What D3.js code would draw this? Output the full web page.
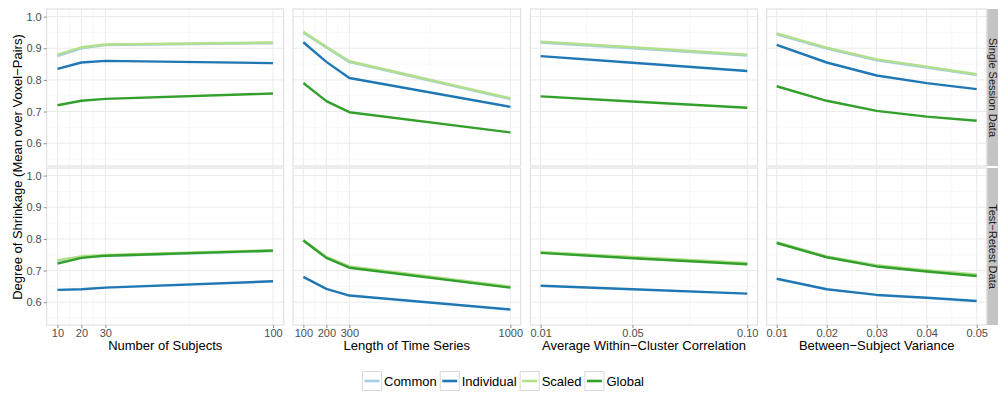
<!DOCTYPE html>
<html>
<head>
<meta charset="utf-8">
<script src="https://cdn.jsdelivr.net/npm/d3@7"></script>
<style>
  html, body { margin: 0; padding: 0; background: #ffffff; }
  svg { display: block; font-family: "Liberation Sans", Arial, sans-serif; }
</style>
</head>
<body>
<svg id="chart" width="998" height="397"></svg>
<script>
// ---- Data -------------------------------------------------------------
const methods = ["Common", "Individual", "Scaled", "Global"];
const methodColors = ["#a6cee3", "#1f78b4", "#b2df8a", "#33a02c"];
const rowLabels = ["Single Session Data", "Test\u2212Retest Data"];
const xTitles = ["Number of Subjects", "Length of Time Series",
                 "Average Within\u2212Cluster Correlation", "Between\u2212Subject Variance"];

const subjectsX = [10, 20, 30, 100];
const lengthX = [100, 200, 300, 1000];
const corrX = [0.01, 0.05, 0.10];
const varianceX = [0.01, 0.02, 0.03, 0.04, 0.05];

const subjectsTicks = [10, 20, 30, 100];
const lengthTicks = [100, 200, 300, 1000];
const corrTicks = [0.01, 0.05, 0.10];
const varianceTicks = [0.01, 0.02, 0.03, 0.04, 0.05];
const yTicks = [0.6, 0.7, 0.8, 0.9, 1.0];

// Single session
const single_subjects = {
  Common: [0.875, 0.900, 0.910, 0.916], Individual: [0.835, 0.855, 0.860, 0.853],
  Scaled: [0.880, 0.903, 0.912, 0.918], Global: [0.720, 0.734, 0.740, 0.757]
};
const single_length = {
  Common: [0.949, 0.902, 0.856, 0.739], Individual: [0.919, 0.857, 0.806, 0.715],
  Scaled: [0.952, 0.905, 0.859, 0.742], Global: [0.790, 0.733, 0.698, 0.634]
};
const single_corr = {
  Common: [0.918, 0.900, 0.877], Individual: [0.875, 0.854, 0.828],
  Scaled: [0.921, 0.903, 0.880], Global: [0.748, 0.732, 0.712]
};
const single_variance = {
  Common: [0.944, 0.899, 0.862, 0.839, 0.815], Individual: [0.911, 0.855, 0.814, 0.790, 0.771],
  Scaled: [0.947, 0.902, 0.865, 0.842, 0.818], Global: [0.780, 0.734, 0.702, 0.684, 0.671]
};
// Test-retest
const retest_subjects = {
  Common: [0.730, 0.742, 0.746, 0.762], Individual: [0.639, 0.641, 0.646, 0.666],
  Scaled: [0.733, 0.745, 0.749, 0.764], Global: [0.722, 0.740, 0.747, 0.763]
};
const retest_length = {
  Common: [0.795, 0.741, 0.711, 0.648], Individual: [0.680, 0.642, 0.621, 0.577],
  Scaled: [0.797, 0.743, 0.713, 0.650], Global: [0.795, 0.740, 0.709, 0.646]
};
const retest_corr = {
  Common: [0.757, 0.741, 0.722], Individual: [0.652, 0.641, 0.627],
  Scaled: [0.759, 0.743, 0.724], Global: [0.756, 0.739, 0.720]
};
const retest_variance = {
  Common: [0.788, 0.743, 0.715, 0.699, 0.686], Individual: [0.674, 0.641, 0.623, 0.614, 0.604],
  Scaled: [0.790, 0.745, 0.717, 0.701, 0.688], Global: [0.787, 0.742, 0.713, 0.697, 0.683]
};

// ---- Layout -----------------------------------------------------------
const colDefs = [
  { x: subjectsX, ticks: subjectsTicks, minor: [15, 25, 65], fmt: d3.format("d"), left: 46.7, right: 283.8 },
  { x: lengthX, ticks: lengthTicks, minor: [150, 250, 650], fmt: d3.format("d"), left: 293, right: 520.7 },
  { x: corrX, ticks: corrTicks, minor: [0.03, 0.075], fmt: d3.format(".2f"), left: 530.3, right: 757.6 },
  { x: varianceX, ticks: varianceTicks, minor: [0.015, 0.025, 0.035, 0.045], fmt: d3.format(".2f"), left: 766.7, right: 986.7 }
];
const rowDefs = [
  { top: 9, bottom: 166, series: [single_subjects, single_length, single_corr, single_variance] },
  { top: 168, bottom: 325, series: [retest_subjects, retest_length, retest_corr, retest_variance] }
];
const yDomain = [0.528, 1.024];
const yMinor = [0.55, 0.65, 0.75, 0.85, 0.95];

const svg = d3.select("#chart");
const color = d3.scaleOrdinal().domain(methods).range(methodColors);

rowDefs.forEach((row, ri) => {
  const y = d3.scaleLinear().domain(yDomain).range([row.bottom, row.top]);
  colDefs.forEach((col, ci) => {
    const ext = d3.extent(col.x);
    const pad = (ext[1] - ext[0]) * 0.05;
    const x = d3.scaleLinear().domain([ext[0] - pad, ext[1] + pad]).range([col.left, col.right]);
    const g = svg.append("g");

    // panel background
    g.append("rect").attr("x", col.left).attr("y", row.top)
      .attr("width", col.right - col.left).attr("height", row.bottom - row.top)
      .attr("fill", "#ffffff");

    // minor grid
    g.selectAll(".ymin").data(yMinor).join("line")
      .attr("x1", col.left).attr("x2", col.right)
      .attr("y1", d => y(d)).attr("y2", d => y(d))
      .attr("stroke", "#f4f4f4").attr("stroke-width", 0.6);
    g.selectAll(".xmin").data(col.minor).join("line")
      .attr("x1", d => x(d)).attr("x2", d => x(d))
      .attr("y1", row.top).attr("y2", row.bottom)
      .attr("stroke", "#f4f4f4").attr("stroke-width", 0.6);
    // major grid
    g.selectAll(".ymaj").data(yTicks).join("line")
      .attr("x1", col.left).attr("x2", col.right)
      .attr("y1", d => y(d)).attr("y2", d => y(d))
      .attr("stroke", "#ebebeb").attr("stroke-width", 1);
    g.selectAll(".xmaj").data(col.ticks).join("line")
      .attr("x1", d => x(d)).attr("x2", d => x(d))
      .attr("y1", row.top).attr("y2", row.bottom)
      .attr("stroke", "#ebebeb").attr("stroke-width", 1);

    // series lines
    const line = d3.line().x((d, i) => x(col.x[i])).y(d => y(d));
    methods.forEach(m => {
      g.append("path").datum(row.series[ci][m])
        .attr("d", line).attr("fill", "none")
        .attr("stroke", color(m)).attr("stroke-width", 2.4)
        .attr("stroke-linejoin", "round");
    });

    // panel border
    g.append("rect").attr("x", col.left).attr("y", row.top)
      .attr("width", col.right - col.left).attr("height", row.bottom - row.top)
      .attr("fill", "none").attr("stroke", "#dcdcdc").attr("stroke-width", 1);

    // y axis on first column
    if (ci === 0) {
      const ax = svg.append("g").attr("transform", `translate(${col.left},0)`)
        .call(d3.axisLeft(y).tickValues(yTicks).tickFormat(d3.format(".1f")).tickSize(3).tickPadding(2));
      ax.select(".domain").remove();
      ax.selectAll(".tick line").attr("stroke", "#8c8c8c");
      ax.selectAll(".tick text").attr("fill", "#4d4d4d").style("font-size", "11px")
        .style("font-family", "Liberation Sans, Arial, sans-serif");
    }
    // x axis on bottom row
    if (ri === rowDefs.length - 1) {
      const ax = svg.append("g").attr("transform", `translate(0,${row.bottom})`)
        .call(d3.axisBottom(x).tickValues(col.ticks).tickFormat(col.fmt).tickSize(3).tickPadding(1));
      ax.select(".domain").remove();
      ax.selectAll(".tick line").attr("stroke", "#8c8c8c");
      ax.selectAll(".tick text").attr("fill", "#4d4d4d").style("font-size", "11px")
        .style("font-family", "Liberation Sans, Arial, sans-serif");
      svg.append("text").attr("x", (col.left + col.right) / 2).attr("y", 350)
        .attr("text-anchor", "middle").attr("fill", "#000").style("font-size", "13px")
        .text(xTitles[ci]);
    }
  });

  // strip on the right
  const stripX = 987.3;
  svg.append("rect").attr("x", stripX).attr("y", row.top)
    .attr("width", 20).attr("height", row.bottom - row.top)
    .attr("fill", "#c4c4c4");
  svg.append("text")
    .attr("transform", `translate(${stripX + 5.5},${(row.top + row.bottom) / 2}) rotate(90)`)
    .attr("text-anchor", "middle").attr("dominant-baseline", "central")
    .attr("fill", "#1a1a1a").style("font-size", "11px")
    .text(rowLabels[ri]);
});

// y axis title
svg.append("text")
  .attr("transform", `translate(17,${(rowDefs[0].top + rowDefs[1].bottom) / 2}) rotate(-90)`)
  .attr("text-anchor", "middle").attr("dominant-baseline", "central")
  .attr("fill", "#000").style("font-size", "13px")
  .text("Degree of Shrinkage (Mean over Voxel\u2212Pairs)");

// legend
const legend = svg.append("g");
let lx = 0;
const keySize = 19;
methods.forEach(m => {
  const item = legend.append("g").attr("transform", `translate(${lx},0)`);
  item.append("rect").attr("x", 0).attr("y", -keySize / 2).attr("width", keySize).attr("height", keySize)
    .attr("fill", "#ffffff").attr("stroke", "#d9d9d9").attr("stroke-width", 1);
  item.append("line").attr("x1", 2).attr("x2", keySize - 2).attr("y1", 0).attr("y2", 0)
    .attr("stroke", color(m)).attr("stroke-width", 2.6);
  const t = item.append("text").attr("x", keySize + 2.5).attr("y", 0)
    .attr("dominant-baseline", "central").attr("fill", "#000").style("font-size", "13px").text(m);
  lx += keySize + 2.5 + t.node().getComputedTextLength() + 3.5;
});
legend.attr("transform", `translate(${505 - lx / 2},381)`);
</script>
</body>
</html>
